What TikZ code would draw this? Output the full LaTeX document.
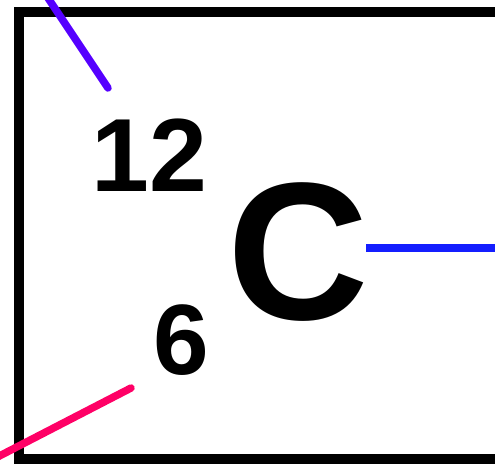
\documentclass[tikz,border=0pt]{standalone}
\usepackage{fontspec}
\setmainfont{Liberation Sans}
\definecolor{violetblue}{RGB}{85,0,255}
\definecolor{bondblue}{RGB}{20,30,255}
\definecolor{bondpink}{RGB}{255,0,102}
\begin{document}
\begin{tikzpicture}[x=1pt,y=-1pt,
  boxline/.style={draw=black,line width=10pt},
  bond/.style={line width=7.5pt,line cap=round},
  isotxt/.style={inner sep=0pt,font=\bfseries,text=black}]
\useasboundingbox (0,0) rectangle (495,464);
\begin{scope}
\clip (0,0) rectangle (495,464);
\draw[boxline] (19,12) rectangle (499.5,459);
% texts
\node[isotxt,anchor=base west,font=\fontsize{104}{104}\bfseries\selectfont] (mass) at (91,191.5) {12};
\node[isotxt,anchor=base west,font=\fontsize{100}{100}\bfseries\selectfont] (atomic) at (153,374) {6};
\node[isotxt,anchor=base west,font=\fontsize{196}{196}\bfseries\selectfont] (sym) at (227,319.5) {C};
% bonds
\coordinate (topend) at (36,-20);
\coordinate (topstart) at (108,88);
\coordinate (rightstart) at (366,248);
\coordinate (rightend) at (520,248);
\coordinate (pinkstart) at (131,388);
\coordinate (pinkend) at (-20,466);
\draw[bond,draw=violetblue] (topstart) -- (topend);
\draw[bond,draw=bondblue,line cap=butt] (rightstart) -- (rightend);
\draw[bond,draw=bondpink] (pinkstart) -- (pinkend);
\end{scope}
\end{tikzpicture}
\end{document}
